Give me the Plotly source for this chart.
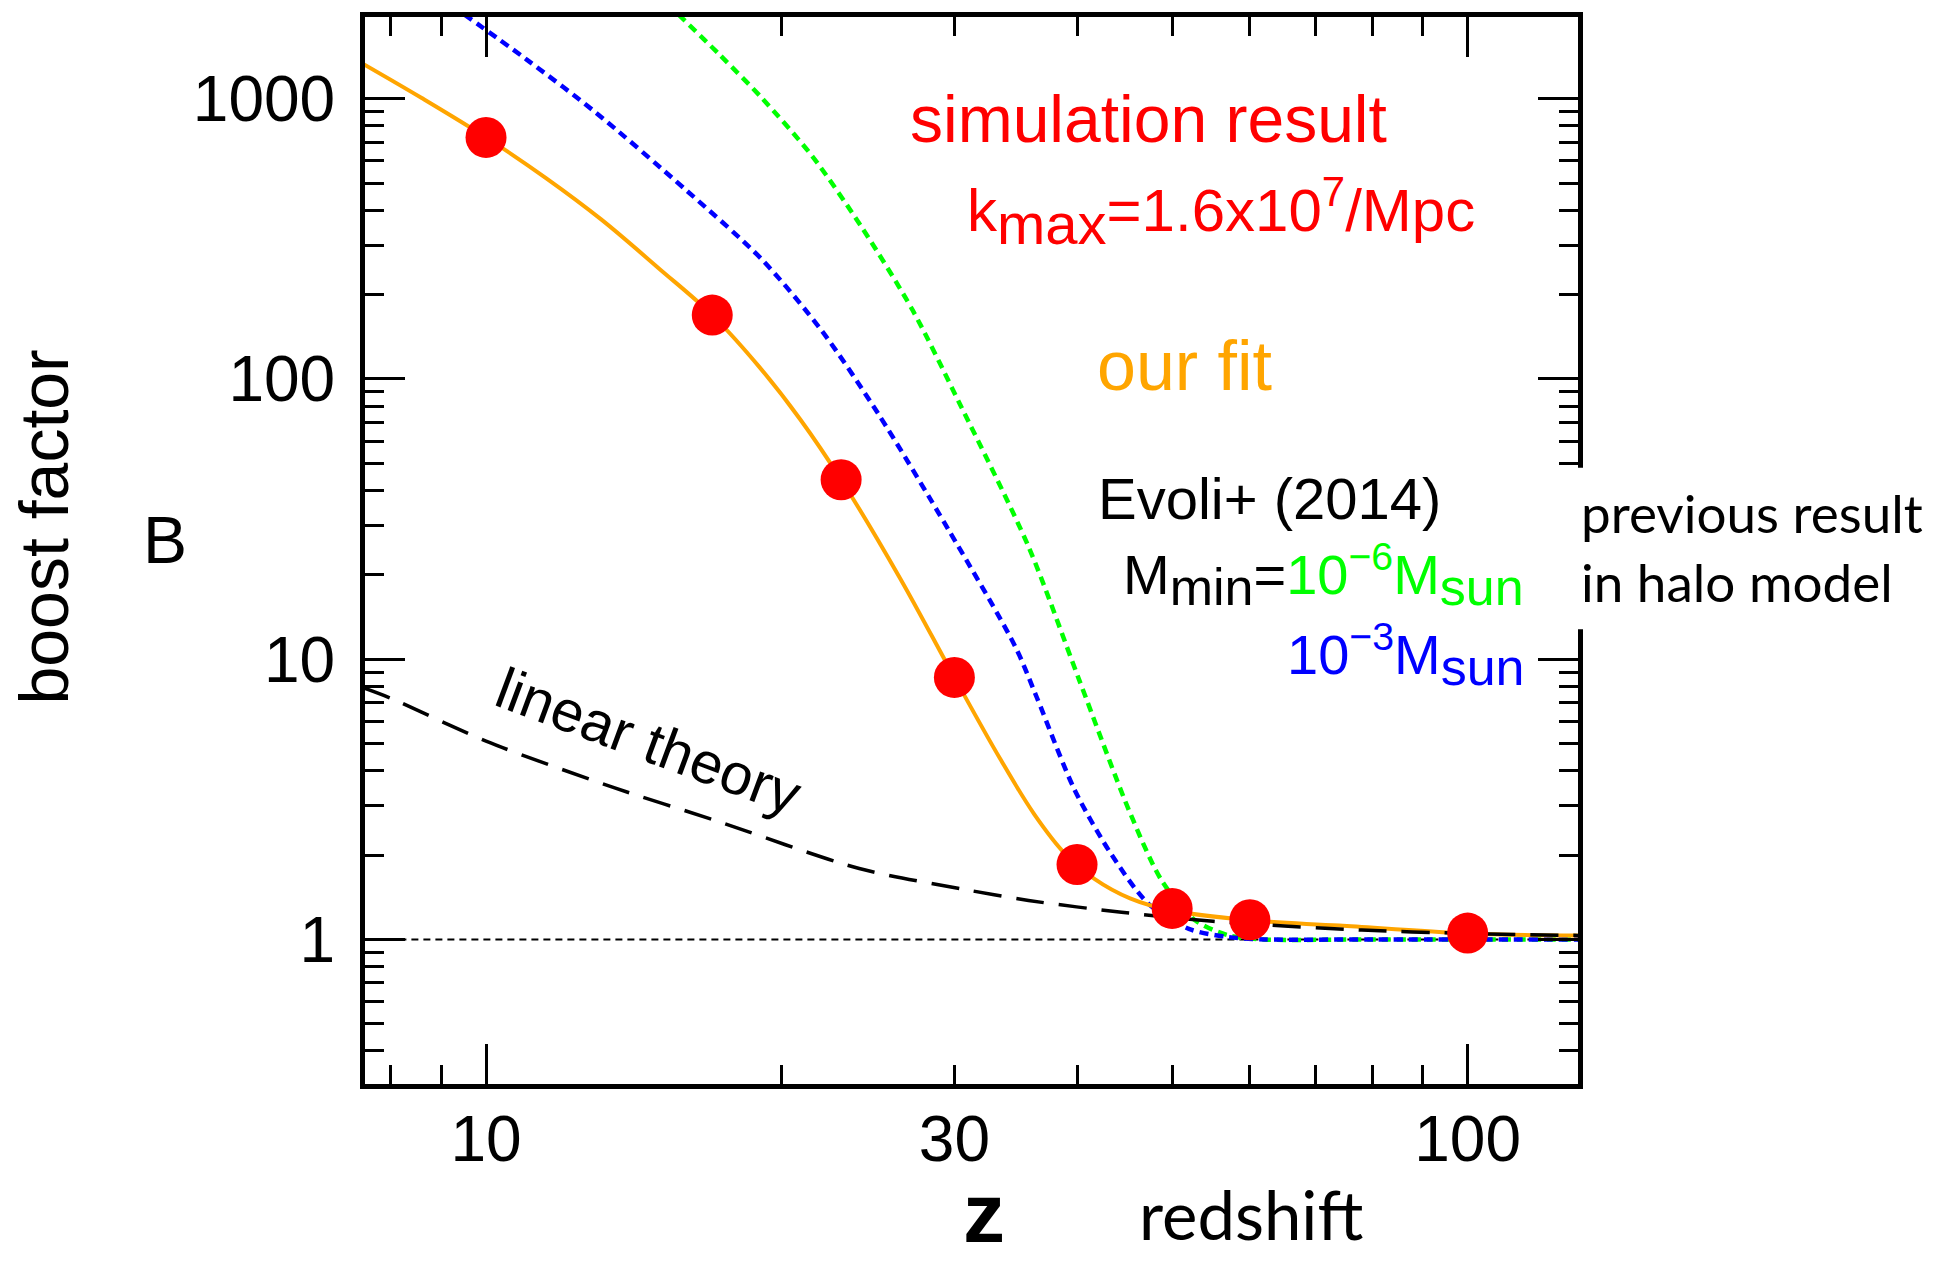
import plotly.graph_objects as go

# ---- data -------------------------------------------------------------
# simulation result (red points)
z_sim = [10, 17, 23, 30, 40, 50, 60, 100]
B_sim = [728, 169, 43.7, 8.61, 1.85, 1.29, 1.175, 1.053]

# our fit (orange)
z_fit = [7.5, 8.6, 10, 11.5, 13.1, 15, 17, 19, 20.9, 23, 26.4, 30, 33.4,
         36.2, 38.9, 41.7, 45.3, 49.8, 60, 74, 100, 130]
B_fit = [1330, 1006, 728, 522, 371, 248, 169, 110, 71.7, 43.7, 19.5, 8.61,
         4.41, 2.79, 2.02, 1.64, 1.40, 1.27, 1.17, 1.12, 1.05, 1.033]

# Evoli+ (2014), M_min = 1e-3 M_sun (blue)
z_e3 = [9.5, 11, 12.9, 16, 19.1, 22, 25.1, 29.6, 34.6, 36.4, 39.8, 43.4,
        47.3, 52, 57, 62, 80, 130]
B_e3 = [2000, 1380, 900, 471, 267, 148, 75, 28.9, 11.1, 7.3, 3.4, 2.0,
        1.34, 1.09, 1.02, 1.0, 1.0, 1.0]

# Evoli+ (2014), M_min = 1e-6 M_sun (green)
z_e6 = [15.7, 17.3, 19.1, 21.5, 24.15, 27.2, 30.5, 35.7, 40.2, 45.2, 48.8,
        52.8, 57.1, 62, 80, 130]
B_e6 = [2000, 1435, 1006, 623, 347, 176, 79.3, 25.2, 8.44, 2.88, 1.62,
        1.168, 1.033, 1.0, 1.0, 1.0]

# linear theory (black dashed)
z_lin = [7.5, 8, 10, 13.5, 17, 24, 30.5, 35.7, 44.4, 55, 78, 100, 130]
B_lin = [7.9, 7.25, 5.1, 3.48, 2.68, 1.79, 1.515, 1.377, 1.25, 1.16, 1.08,
         1.05, 1.033]

# reference level B = 1
z_one = [7.5, 130]
B_one = [1, 1]

# axis ticks
x_major = [10, 100]
x_minor = [8, 9, 20, 30, 40, 50, 60, 70, 80, 90]
x_labels = [10, 30, 100]
y_major = [1, 10, 100, 1000]
y_minor = [0.4, 0.5, 0.6, 0.7, 0.8, 0.9,
           2, 3, 4, 5, 6, 7, 8, 9,
           20, 30, 40, 50, 60, 70, 80, 90,
           200, 300, 400, 500, 600, 700, 800, 900]

# ---- layout geometry ----------------------------------------------------
W, H = 1935, 1264
L, R, T, Bm = 365, 357, 14, 180
PW, PH = W - L - R, H - T - Bm


def px(x):
    return (x - L) / PW


def py(y):
    return (H - Bm - y) / PH


HELV = "Liberation Sans"
CALI = "Lato"
RED, ORANGE, GREEN, BLUE = "#ff0000", "#ffa500", "#00ff00", "#0000ff"

fig = go.Figure()

fig.add_trace(go.Scatter(x=z_one, y=B_one, mode="lines",
                         line=dict(color="black", width=2, dash="7px,5px")))
fig.add_trace(go.Scatter(x=z_e6, y=B_e6, mode="lines",
                         line=dict(color=GREEN, width=4.5, dash="9px,6px",
                                   shape="spline", smoothing=0.8)))
fig.add_trace(go.Scatter(x=z_e3, y=B_e3, mode="lines",
                         line=dict(color=BLUE, width=4.5, dash="9px,6px",
                                   shape="spline", smoothing=0.8)))
fig.add_trace(go.Scatter(x=z_fit, y=B_fit, mode="lines",
                         line=dict(color=ORANGE, width=4,
                                   shape="spline", smoothing=1.0)))
fig.add_trace(go.Scatter(x=z_lin, y=B_lin, mode="lines",
                         line=dict(color="black", width=3.5, dash="28px,15px",
                                   shape="spline", smoothing=0.8)))
fig.add_trace(go.Scatter(x=z_sim, y=B_sim, mode="markers",
                         marker=dict(color=RED, size=41, line=dict(width=0))))
# carrier for the labelled x axis
fig.add_trace(go.Scatter(x=[10], y=[1], mode="markers", xaxis="x2",
                         marker=dict(opacity=0), hoverinfo="skip"))

xr = [0.8767, 2.1124]
yr = [-0.516, 3.2918]

fig.update_layout(
    width=W, height=H,
    margin=dict(l=L, r=R, t=T, b=Bm, pad=0),
    paper_bgcolor="white", plot_bgcolor="white",
    showlegend=False,
    xaxis=dict(type="log", range=xr, showgrid=False, zeroline=False,
               showline=True, linewidth=5, linecolor="black", mirror="ticks",
               ticks="inside", ticklen=40, tickwidth=3, tickcolor="black",
               tickvals=x_major, showticklabels=False,
               minor=dict(ticks="inside", ticklen=19, tickwidth=3,
                          tickcolor="black", tickvals=x_minor, showgrid=False)),
    xaxis2=dict(type="log", range=xr, overlaying="x", anchor="y", side="bottom",
                showgrid=False, zeroline=False, showline=False, ticks="",
                tickvals=x_labels, ticktext=[str(v) for v in x_labels],
                tickfont=dict(family=HELV, size=64, color="black"),
                ticklabelstandoff=12),
    yaxis=dict(type="log", range=yr, showgrid=False, zeroline=False,
               showline=True, linewidth=5, linecolor="black", mirror="ticks",
               ticks="inside", ticklen=40, tickwidth=3, tickcolor="black",
               tickvals=y_major, ticktext=[str(v) for v in y_major],
               tickfont=dict(family=HELV, size=64, color="black"),
               ticklabelstandoff=12,
               minor=dict(ticks="inside", ticklen=19, tickwidth=3,
                          tickcolor="black", tickvals=y_minor, showgrid=False)),
)

# white panel behind the side note, breaking the right frame
fig.add_shape(type="rect", xref="paper", yref="paper", layer="above",
              x0=px(1545), x1=px(W + 5), y0=py(628), y1=py(466),
              fillcolor="white", line=dict(width=0))


def note(text, x, y, size, color="black", family=HELV, xanchor="left",
         angle=0, yanchor="middle"):
    fig.add_annotation(text=text, xref="paper", yref="paper", x=px(x), y=py(y),
                       xanchor=xanchor, yanchor=yanchor, showarrow=False,
                       textangle=angle, align="left",
                       font=dict(family=family, size=size, color=color))


note("simulation result", 908, 116, 66, RED)
note("k<sub><span style='font-size:58px'>max</span></sub>=1.6x10<sup>7</sup>/Mpc",
     965, 210, 60, RED)
note("our fit", 1095, 364, 70, ORANGE)
note("Evoli+ (2014)", 1096, 497, 58)
note("M<sub><span style='font-size:52px'>min</span></sub>="
     "<span style='color:#00ff00'>10<sup>\u22126</sup>M"
     "<sub><span style='font-size:52px'>sun</span></sub></span>",
     1526, 574, 56, xanchor="right")
note("10<sup>\u22123</sup>M<sub><span style='font-size:52px'>sun</span></sub>",
     1526, 654, 56, BLUE, xanchor="right")
note("linear theory", 648, 740, 58, xanchor="center", angle=20.4)
note("previous result<br>in halo model", 1579, 545, 53, family=CALI)

note("boost factor", 44, 526, 68, xanchor="center", angle=-90)
note("B", 165, 538, 66, xanchor="center")
note("<b>z</b>", 984, 1263, 84, xanchor="center", yanchor="bottom")
note("redshift", 1251, 1214, 67, family=CALI, xanchor="center")

fig.write_html("out.html")
